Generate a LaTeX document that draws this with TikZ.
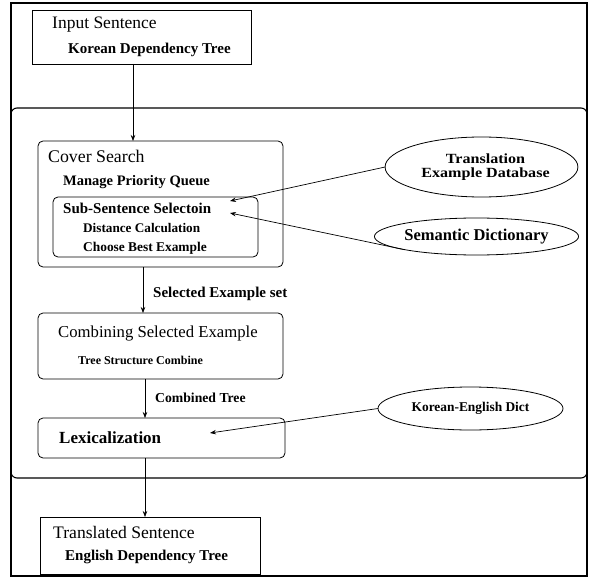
\documentclass[tikz,border=0pt]{standalone}
\usepackage{fontspec}
\setmainfont{Liberation Serif}
\newfontfamily\widefont[FakeStretch=1.15]{Liberation Serif}
\usetikzlibrary{shapes.geometric,arrows.meta}
\begin{document}
\begin{tikzpicture}[x=1pt,y=-1pt,
  frame/.style={draw, line width=1.1pt},
  box/.style={draw, line width=0.8pt, anchor=north west, outer sep=0pt, inner sep=0pt},
  rbox/.style={box, rounded corners=5pt},
  lbl/.style={anchor=west, inner sep=0pt},
  ell/.style={draw, ellipse, line width=0.8pt, inner sep=0pt, outer sep=0pt, align=center},
  arr/.style={-{Stealth[length=6pt,width=4.5pt]}, line width=0.7pt},
  fs/.style={font=\fontsize{#1}{#1}\selectfont},
  fb/.style={font=\fontsize{#1}{#1}\selectfont\bfseries}
]
\useasboundingbox (0,0) rectangle (591,580);

% frames
\draw[frame] (11,3) rectangle (587,576);
\draw[frame, rounded corners=6pt] (11,108) rectangle (587,478);

% input box
\node[box, minimum width=219pt, minimum height=54pt] (input) at (32,10) {};
\node[lbl, fs=17.5] (inputT) at (52,25) {Input Sentence};
\node[lbl, fb=15] (inputS) at (68,50) {Korean Dependency Tree};

% cover search
\node[rbox, minimum width=245pt, minimum height=126pt] (cover) at (38,141) {};
\node[lbl, fs=17.8] (coverT) at (48,156) {Cover Search};
\node[lbl, fb=14.5] (coverS) at (63,182) {Manage Priority Queue};
\node[rbox, minimum width=205pt, minimum height=60pt] (sub) at (53,197) {};
\node[lbl, fb=15] (subT) at (63,208) {Sub-Sentence Selectoin};
\node[lbl, fb=13.2] (subA) at (83,228) {Distance Calculation};
\node[lbl, fb=13.4] (subB) at (83,248) {Choose Best Example};

% combining
\node[rbox, minimum width=245pt, minimum height=66pt] (comb) at (38,313) {};
\node[lbl, fs=16.7] (combT) at (58,334) {Combining Selected Example};
\node[lbl, fb=12] (combS) at (78,360) {Tree Structure Combine};

% lexicalization
\node[rbox, minimum width=247pt, minimum height=40pt] (lex) at (38,418) {};
\node[lbl, fb=17] (lexT) at (59,438) {Lexicalization};

% translated
\node[box, minimum width=220pt, minimum height=57pt] (trans) at (40,517) {};
\node[lbl, fs=17.6] (transT) at (53,532) {Translated Sentence};
\node[lbl, fb=15] (transS) at (65,557) {English Dependency Tree};

% edge labels
\node[lbl, fb=15] (sel) at (153,294) {Selected Example set};
\node[lbl, fb=13.7] (cmbt) at (155,398) {Combined Tree};

% ellipses
\node[ell, minimum width=157pt, minimum height=60pt, font=\widefont\fontsize{14}{13.5}\selectfont\bfseries] (ted) at (481.5,167) {\hspace*{8pt}Translation\\\hspace*{8pt}Example Database};
\node[ell, minimum width=163pt, minimum height=37pt, fb=16.5] (sd) at (476.5,236.5) {Semantic Dictionary};
\node[ell, minimum width=185pt, minimum height=43pt, fb=13.4] (ked) at (470.5,408.5) {Korean-English Dict};

% connector columns
\coordinate (c1) at (133,0);
\coordinate (c2) at (143,0);
\coordinate (c3) at (145,0);
\coordinate (tA) at (230,201);
\coordinate (tB) at (230,213);
\coordinate (tC) at (210,433);

\draw[arr] (input.south -| c1) -- (cover.north -| c1);
\draw[arr] (cover.south -| c2) -- (comb.north -| c2);
\draw[arr] (comb.south -| c3) -- (lex.north -| c3);
\draw[arr] (lex.south -| c3) -- (trans.north -| c3);

\draw[arr] (ted.west) -- (tA);
\draw[arr] (sd.190) -- (tB);
\draw[arr] (ked.west) -- (tC);
\end{tikzpicture}
\end{document}
